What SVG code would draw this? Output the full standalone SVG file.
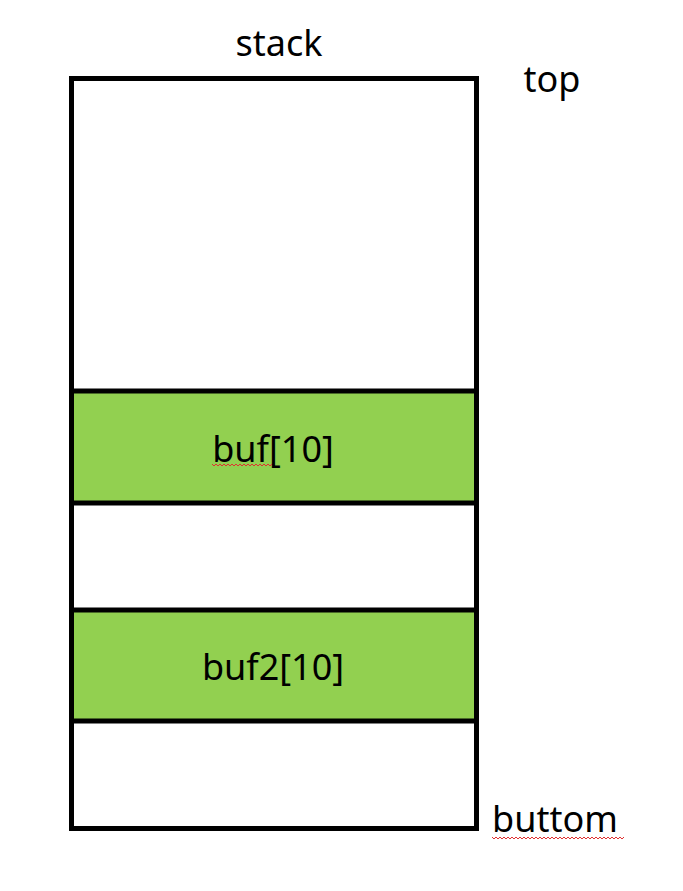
<svg xmlns="http://www.w3.org/2000/svg" width="683" height="891" viewBox="0 0 683 891">
<defs>
<style>
.t{font-family:"Noto Sans","Open Sans","Liberation Sans",sans-serif;font-size:36px;fill:#000}
.box{stroke:#000;stroke-width:5;fill:none}
.cell{fill:#92d050;stroke:#000;stroke-width:5}
.sq{fill:none;stroke:#e03030;stroke-width:1}
</style>
</defs>
<rect x="0" y="0" width="683" height="891" fill="#fff"/>
<g id="stack">
<rect class="box" x="71.5" y="78.5" width="405" height="750" fill="#fff"/>
</g>
<g id="buf">
<rect class="cell" x="71.5" y="391" width="405" height="112"/>
<text class="t" x="273" y="462" text-anchor="middle">buf[10]</text>
<path class="sq" d="M212 464 l2 2 l2 -2 l2 2 l2 -2 l2 2 l2 -2 l2 2 l2 -2 l2 2 l2 -2 l2 2 l2 -2 l2 2 l2 -2 l2 2 l2 -2 l2 2 l2 -2 l2 2 l2 -2 l2 2 l2 -2 l2 2 l2 -2 l2 2 l2 -2 l2 2 l2 -2 l2 2 l2 -2"/>
</g>
<g id="buf2">
<rect class="cell" x="71.5" y="610" width="405" height="111"/>
<text class="t" x="273" y="680" text-anchor="middle">buf2[10]</text>
</g>
<g id="labels">
<text class="t" x="279" y="56" text-anchor="middle">stack</text>
<text class="t" x="552" y="92" text-anchor="middle">top</text>
<text class="t" x="555" y="832" text-anchor="middle">buttom</text>
<path class="sq" d="M492 837 l2 2 l2 -2 l2 2 l2 -2 l2 2 l2 -2 l2 2 l2 -2 l2 2 l2 -2 l2 2 l2 -2 l2 2 l2 -2 l2 2 l2 -2 l2 2 l2 -2 l2 2 l2 -2 l2 2 l2 -2 l2 2 l2 -2 l2 2 l2 -2 l2 2 l2 -2 l2 2 l2 -2 l2 2 l2 -2 l2 2 l2 -2 l2 2 l2 -2 l2 2 l2 -2 l2 2 l2 -2 l2 2 l2 -2 l2 2 l2 -2 l2 2 l2 -2 l2 2 l2 -2 l2 2 l2 -2 l2 2 l2 -2 l2 2 l2 -2 l2 2 l2 -2 l2 2 l2 -2 l2 2 l2 -2 l2 2 l2 -2 l2 2 l2 -2 l2 2 l2 -2"/>
</g>
<g id="connectors"></g>
</svg>
